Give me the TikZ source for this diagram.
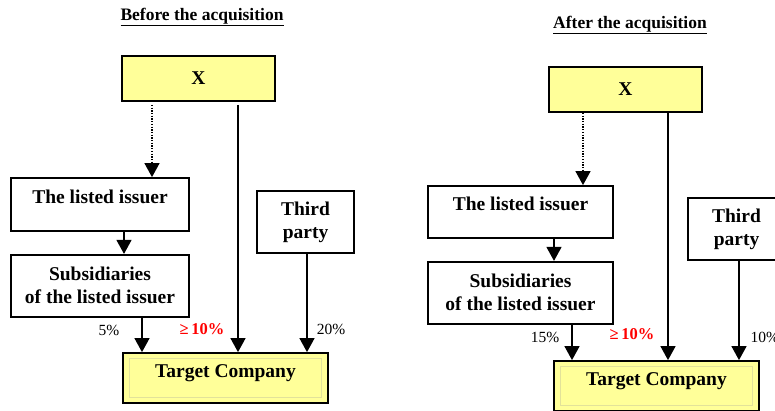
\documentclass[tikz,border=0pt]{standalone}
\usepackage{fontspec}
\setmainfont{Liberation Serif}
\usetikzlibrary{shapes,arrows.meta,positioning}
\definecolor{boxyellow}{HTML}{FFFF99}
\definecolor{bevel}{HTML}{E2E29A}
\tikzstyle{Block} = [draw, rectangle, line width=1.8pt, align=center, inner sep=0pt, font=\fontsize{19.5}{23}\selectfont\bfseries]
\tikzstyle{Owner} = [Block, fill=boxyellow, minimum width=153pt, minimum height=45pt]
\tikzstyle{Target} = [Block, fill=boxyellow, minimum width=205pt, minimum height=50pt, text depth=14pt]
\tikzstyle{Bevel} = [draw=bevel, line width=1pt]
\tikzstyle{Link} = [line width=1.3pt, -{Triangle[length=14pt,width=15pt]}]
\tikzstyle{Dots} = [Link, dash pattern=on 1.3pt off 1.4pt]
\tikzstyle{Pct} = [font=\fontsize{15.5}{18}\selectfont]
\tikzstyle{Red} = [text=red, font=\fontsize{16.5}{19}\selectfont\bfseries]
\tikzstyle{Title} = [font=\fontsize{17.5}{20}\selectfont\bfseries]

\begin{document}
\begin{tikzpicture}[x=1pt, y=-1pt]
    \useasboundingbox (0,0) rectangle (775,410);
    % before the acquisition
    \node[Title]  (titleA)  at (202,17)       {\underline{Before the acquisition}};
    \node[Owner]  (xA)      at (198.5,78.5)   {X};
    \node[Block, minimum width=178pt, minimum height=53pt, text depth=16pt] (issuerA) at (100,204.5) {The listed issuer};
    \node[Block, minimum width=178pt, minimum height=62pt] (subsA) [below=22pt of issuerA] {Subsidiaries\\of the listed issuer};
    \node[Block, minimum width=97pt, minimum height=62pt]  (thirdA) at (305.5,222) {Third\\party};
    \node[Target] (tgtA)    at (225.5,378)    {Target Company};
    \draw[Bevel] ([shift={(7pt,-6pt)}]tgtA.north west) rectangle ([shift={(-7pt,6pt)}]tgtA.south east);
    \draw[Dots, shorten <=3pt] ([xshift=-46.5pt]xA.south) to ([xshift=-46.5pt]xA.south |- issuerA.north);
    \draw[Link, shorten <=3pt] ([xshift=39.5pt]xA.south)  to ([xshift=39.5pt]xA.south |- tgtA.north);
    \draw[Link] ([xshift=24pt]issuerA.south) to ([xshift=24pt]subsA.north);
    \draw[Link] ([xshift=42pt]subsA.south)   to ([xshift=42pt]subsA.south |- tgtA.north);
    \draw[Link] ([xshift=1.5pt]thirdA.south) to ([xshift=1.5pt]thirdA.south |- tgtA.north);
    \node[Pct] (pctSubsA)  at (109,330) {5\%};
    \node[Red] (pctXA)     at (202,329) {≥\,10\%};
    \node[Pct] (pctThirdA) at (331,329) {20\%};
    % after the acquisition
    \node[Title]  (titleB)  at (630,25)       {\underline{After the acquisition}};
    \node[Owner]  (xB)      at (625.5,89.5)   {X};
    \node[Block, minimum width=185pt, minimum height=52pt, text depth=16pt] (issuerB) at (520.5,212) {The listed issuer};
    \node[Block, minimum width=185pt, minimum height=62pt] (subsB) [below=22pt of issuerB] {Subsidiaries\\of the listed issuer};
    \node[Block, minimum width=97pt, minimum height=62pt]  (thirdB) at (736.5,229) {Third\\party};
    \node[Target] (tgtB)    at (656.5,386)    {Target Company};
    \draw[Bevel] ([shift={(7pt,-6pt)}]tgtB.north west) rectangle ([shift={(-7pt,6pt)}]tgtB.south east);
    \draw[Dots] ([xshift=-42.5pt]xB.south) to ([xshift=-42.5pt]xB.south |- issuerB.north);
    \draw[Link] ([xshift=42.5pt]xB.south)  to ([xshift=42.5pt]xB.south |- tgtB.north);
    \draw[Link] ([xshift=33.5pt]issuerB.south) to ([xshift=33.5pt]subsB.north);
    \draw[Link] ([xshift=51.5pt]subsB.south)   to ([xshift=51.5pt]subsB.south |- tgtB.north);
    \draw[Link] ([xshift=2.5pt]thirdB.south)   to ([xshift=2.5pt]thirdB.south |- tgtB.north);
    \node[Pct] (pctSubsB)  at (545,337) {15\%};
    \node[Red] (pctXB)     at (632,334) {≥\,10\%};
    \node[Pct, anchor=west] (pctThirdB) at (747,337) {10\%};
\end{tikzpicture}
\end{document}
